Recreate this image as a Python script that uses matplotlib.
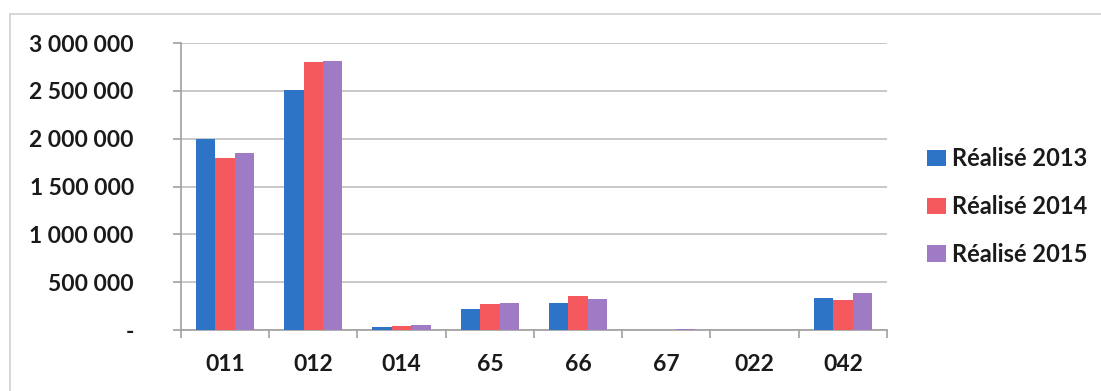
import numpy as np
import matplotlib.pyplot as plt
from matplotlib.lines import Line2D

categories = ["011", "012", "014", "65", "66", "67", "022", "042"]
series = ["Réalisé 2013", "Réalisé 2014", "Réalisé 2015"]
real_2013 = [2000000, 2510000, 35000, 220000, 280000, 0, 0, 330000]
real_2014 = [1800000, 2800000, 45000, 270000, 355000, 0, 0, 315000]
real_2015 = [1850000, 2810000, 55000, 280000, 325000, 15000, 0, 385000]
yticks = [0, 500000, 1000000, 1500000, 2000000, 2500000, 3000000]
colors = ["#2E74C6", "#F4595E", "#9E7BC4"]

plt.rcParams['font.family'] = ['Lato', 'DejaVu Sans']
plt.rcParams['font.weight'] = 'bold'

fig = plt.figure(figsize=(11.01, 3.91), dpi=100)
ax = fig.add_axes([0.1644, 0.156, 0.8056 - 0.1644, 0.734])

x = np.arange(len(categories))
w = 0.22
for i, (vals, lab, c) in enumerate(zip([real_2013, real_2014, real_2015], series, colors)):
    ax.bar(x + (i - 1) * w, vals, width=w, color=c, label=lab, zorder=3)

ax.set_xlim(-0.5, len(categories) - 0.5)
ax.set_ylim(0, 3000000)
ax.set_yticks(yticks)
ax.set_yticklabels(["-" if v == 0 else f"{v:,}".replace(",", " ") for v in yticks])
ax.yaxis.grid(True, color="#BFBFBF", linewidth=1.2, zorder=0)

ax.set_xticks(x)
ax.set_xticklabels(categories)
ax.set_xticks(np.arange(len(categories) + 1) - 0.5, minor=True)
ax.tick_params(axis="x", which="major", length=0, pad=17, labelsize=16.5, labelcolor="#1A1A1A")
ax.tick_params(axis="x", which="minor", length=6, color="#A0A0A0", width=1.2)
ax.tick_params(axis="y", length=6, color="#A0A0A0", width=1.2, labelsize=16.5, pad=28,
               labelcolor="#1A1A1A")

for s in ["top", "right"]:
    ax.spines[s].set_visible(False)
ax.spines["left"].set_color("#A0A0A0")
ax.spines["bottom"].set_color("#A0A0A0")
ax.spines["left"].set_linewidth(1.2)
ax.spines["bottom"].set_linewidth(1.2)

leg = ax.legend(loc="center left", bbox_to_anchor=(1.027, 0.43), frameon=False,
                prop={"size": 17, "weight": "bold"}, handlelength=0.8, handleheight=0.7,
                handletextpad=0.25, labelspacing=1.05)
for t in leg.get_texts():
    t.set_color("#1A1A1A")

# light frame around the chart
fig.add_artist(Line2D([0.009, 0.009], [0.0, 0.965], color="#D0D0D0", lw=1.2))
fig.add_artist(Line2D([0.009, 1.0], [0.965, 0.965], color="#D0D0D0", lw=1.2))

fig.savefig("out.png", dpi=100)
